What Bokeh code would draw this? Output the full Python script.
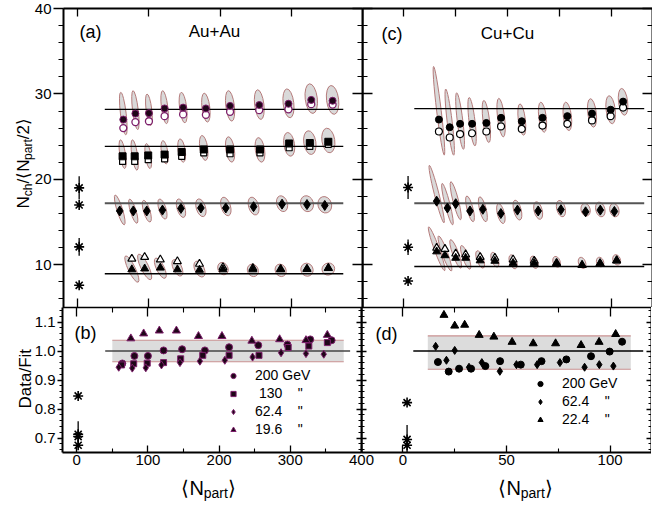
import math
from bokeh.plotting import figure
from bokeh.layouts import row, column
from bokeh.models import (Range1d, LinearAxis, SingleIntervalTicker, FixedTicker,
                          Label, Legend, LegendItem, PrintfTickFormatter)
from bokeh.embed import file_html
from bokeh.resources import INLINE

FONT = "Liberation Sans"

# ======================= DATA =======================
# ---- (a) Au+Au : Nch/(<Npart>/2) ----
au200_npart = [64, 81, 100, 122, 148, 180, 214, 255, 296, 328, 358]
au200_y = [27.0, 27.7, 27.75, 28.3, 28.4, 28.3, 28.6, 28.7, 28.85, 29.3, 29.2]
au200_y_open = [26.0, 26.7, 26.8, 27.4, 27.6, 27.55, 27.9, 28.1, 28.2, 28.8, 28.75]
au200_ell_lo = [25.2, 25.8, 26.3, 26.5, 26.6, 26.7, 26.8, 27.0, 27.2, 27.7, 27.6]
au200_ell_hi = [30.2, 30.4, 30.0, 30.4, 30.2, 30.1, 30.4, 30.5, 30.6, 31.2, 31.0]
au200_ell_w = [8, 8, 8, 9, 10, 11, 12, 13, 15, 17, 17]

au130_npart = [63, 80, 99, 122, 146, 177, 214, 256, 297, 326, 352]
au130_y = [22.7, 22.7, 22.8, 22.9, 23.2, 23.5, 23.5, 23.5, 24.2, 24.25, 24.4]
au130_y_open = [22.1, 22.1, 22.3, 22.4, 22.7, 23.1, 23.0, 23.1, 23.7, 23.85, 24.1]
au130_ell_lo = [21.25, 21.05, 21.25, 21.8, 22.0, 22.2, 22.0, 22.0, 22.7, 22.9, 23.1]
au130_ell_hi = [24.65, 24.65, 24.2, 24.55, 24.75, 25.15, 25.0, 24.9, 25.5, 25.7, 26.0]
au130_ell_w = [8, 8, 8, 9, 10, 11, 12, 13, 15, 17, 18]

au62_npart = [59, 78, 97, 119, 145, 173, 208, 247, 287, 322, 347]
au62_y = [16.3, 16.3, 16.3, 16.4, 16.6, 16.65, 16.65, 16.8, 17.1, 17.05, 16.95]
au62_ell_lo = [14.6, 14.8, 14.95, 15.3, 15.5, 15.6, 15.7, 15.8, 16.2, 16.2, 16.05]
au62_ell_hi = [18.25, 17.75, 17.6, 17.75, 17.75, 17.75, 17.95, 17.95, 18.1, 18.1, 18.0]
au62_ell_w = [8, 8, 9, 10, 11, 13, 13, 14, 15, 18, 19]

au19_npart = [76, 94, 116, 140, 171, 204, 246, 285, 322, 352]
au19_y = [9.45, 9.55, 9.65, 9.45, 9.4, 9.45, 9.45, 9.45, 9.5, 9.6]
au19_y_open = [10.7, 10.9, 10.6, 10.4, 10.1, 9.7, 9.6, 9.5, 9.5, 9.6]
au19_ell_lo = [7.8, 8.1, 8.3, 8.6, 8.5, 8.8, 8.6, 8.6, 8.65, 8.8]
au19_ell_hi = [11.2, 11.4, 10.9, 10.7, 10.5, 10.3, 10.1, 10.1, 10.2, 10.2]
au19_ell_w = [10, 11, 11, 12, 13, 14, 15, 15, 17, 18]

au_fit = [28.2, 23.85, 17.2, 8.95]
au_fit_range = (38, 373)

pp_au_y = [19.0, 17.0, 12.1, 7.6]
pp_au_err = [1.35, 0.0, 1.05, 0.0]

# ---- (c) Cu+Cu ----
cu200_npart = [16.9, 22.1, 27.1, 32.9, 39.8, 46.9, 56.9, 66.9, 78.9, 90.8, 99.8, 105.8]
cu200_y = [27.0, 26.1, 26.5, 26.5, 26.6, 27.2, 26.8, 27.2, 27.4, 27.7, 28.15, 29.1]
cu200_y_open = [25.6, 24.9, 25.3, 25.4, 25.6, 26.2, 25.9, 26.3, 26.5, 26.9, 27.4, 28.4]
cu200_ell_lo = [22.8, 22.8, 23.5, 23.9, 24.3, 24.95, 25.15, 25.5, 25.7, 26.1, 26.5, 27.5]
cu200_ell_hi = [33.25, 30.6, 30.15, 29.6, 29.25, 29.5, 28.85, 29.05, 29.05, 29.45, 29.8, 30.65]
cu200_ell_w = [2.2, 2.4, 2.7, 2.9, 3.2, 3.4, 3.4, 3.6, 3.9, 4.1, 4.4, 4.4]

cu62_npart = [15.8, 21.0, 25.0, 31.9, 38.1, 46.8, 54.8, 64.8, 75.8, 87.7, 94.8, 101.6]
cu62_y = [17.45, 16.65, 17.15, 16.3, 16.5, 16.0, 16.4, 16.3, 16.45, 16.2, 16.4, 16.25]
cu62_ell_lo = [14.8, 14.6, 15.2, 15.0, 15.0, 14.8, 15.2, 15.3, 15.6, 15.7, 15.6, 15.6]
cu62_ell_hi = [21.75, 19.6, 19.8, 18.1, 18.0, 17.2, 17.6, 17.4, 17.55, 17.2, 17.35, 17.2]
cu62_ell_w = [2.2, 2.4, 2.7, 2.9, 3.2, 3.4, 3.6, 3.9, 4.1, 4.4, 4.4, 4.4]

cu22_npart = [15.8, 19.8, 25.0, 29.8, 36.8, 43.9, 52.7, 62.9, 73.7, 86.0, 94.7, 102.7]
cu22_y = [11.55, 11.1, 10.8, 10.8, 10.5, 10.45, 10.2, 10.2, 10.15, 9.95, 10.15, 10.5]
cu22_y_open = [11.97, 11.85, 11.3, 11.2, 10.9, 10.8, 10.6, 10.45, 10.2, 9.95, 10.15, 10.5]
cu22_ell_lo = [9.15, 9.15, 9.5, 9.4, 9.55, 9.7, 9.5, 9.55, 9.7, 9.55, 9.75, 9.95]
cu22_ell_hi = [14.6, 13.5, 13.05, 12.35, 11.7, 11.5, 11.2, 11.05, 11.0, 10.9, 10.9, 11.2]
cu22_ell_w = [2.4, 2.7, 2.9, 2.9, 3.2, 3.2, 3.4, 3.4, 3.4, 3.4, 3.4, 3.6]

cu_fit = [28.27, 17.2, 9.8]
cu_fit_range = (5, 116)

pp_cu_y = [19.05, 12.05, 8.1]
pp_cu_err = [1.35, 0.9, 0.0]

pp_npart = 2

# ---- (b) Au+Au Data/Fit ----
au200_ratio = [0.957, 0.983, 0.983, 1.002, 1.006, 1.002, 1.013, 1.02, 1.022, 1.04, 1.037]
au130_ratio = [0.952, 0.956, 0.958, 0.960, 0.973, 0.985, 0.985, 0.985, 1.012, 1.017, 1.029]
au62_ratio = [0.944, 0.941, 0.942, 0.952, 0.96, 0.965, 0.968, 0.979, 0.994, 0.991, 0.989]
au19_ratio = [1.043, 1.06, 1.07, 1.07, 1.051, 1.051, 1.035, 1.04, 1.037, 1.055]
pp_au_ratio = [0.845, 0.713, 0.705, 0.675]
pp_au_ratio_err = [0.0, 0.045, 0.0, 0.0]
au_band = (0.963, 1.037)
au_band_range = (50, 375)
au_ratio_line_range = (40, 384)

# ---- (d) Cu+Cu Data/Fit ----
cu200_ratio = [0.962, 0.929, 0.939, 0.939, 0.948, 0.965, 0.953, 0.965, 0.971, 0.982, 0.998, 1.032]
cu62_ratio = [1.016, 0.968, 1.002, 0.944, 0.96, 0.93, 0.953, 0.953, 0.96, 0.944, 0.953, 0.948]
cu22_ratio = [1.17, 1.124, 1.087, 1.09, 1.055, 1.049, 1.031, 1.026, 1.026, 1.02, 1.031, 1.058]
pp_cu_ratio = [0.822, 0.695, 0.675]
pp_cu_ratio_err = [0.0, 0.05, 0.0]
cu_band = (0.937, 1.052)
cu_band_range = (12, 110)
cu_ratio_line_range = (5, 116)

# ======================= STYLE =======================
ELL_FILL = "#d9d9d9"
ELL_LINE = "#b57b7b"
PURPLE = "#7d1f6b"
DARKP = "#1e0618"
BAND_FILL = "#dcdcdc"
BAND_LINE = "#c99090"

CHAR_W = {'N': 0.722, 'c': 0.5, 'h': 0.556, '/': 0.278, 'p': 0.556, 'a': 0.556,
          'r': 0.333, 't': 0.278, '2': 0.556, '\u27e8': 0.39, '\u27e9': 0.39}


def text_w(s, fs):
    return sum(CHAR_W.get(ch, 0.55) for ch in s) * fs


def rich_label(p, pieces, x, y, angle=0.0):
    """Label made of pieces (text, font px, subscript drop px); centred on (x, y)."""
    total = sum(text_w(t, fs) for t, fs, _ in pieces)
    pos = -total / 2
    for txt, fs, drop in pieces:
        if angle == 0:
            lx, ly = x + pos, y - drop
        else:  # rotated 90 deg counter-clockwise: text runs upward, "down" is +x
            lx, ly = x + drop, y + pos
        p.add_layout(Label(x=lx, y=ly, x_units="screen", y_units="screen", text=txt,
                           angle=angle, text_font=FONT, text_font_size=f"{fs}px",
                           text_align="left", text_baseline="alphabetic", text_color="black"))
        pos += text_w(txt, fs)


def hide_grids(p):
    for g in p.grid:
        g.visible = False


def make_fig(xr, yr, fw, fh, bl, br, bt, bb):
    p = figure(frame_width=fw, frame_height=fh, x_range=Range1d(*xr), y_range=Range1d(*yr),
               output_backend="svg", toolbar_location=None, title=None,
               min_border_left=bl, min_border_right=br, min_border_top=bt, min_border_bottom=bb,
               x_axis_location=None, y_axis_location=None)
    p.background_fill_alpha = 0
    p.border_fill_alpha = 0
    p.outline_line_color = None
    hide_grids(p)
    return p


def label_fig(w, h):
    p = figure(width=w, height=h, x_range=Range1d(0, 1), y_range=Range1d(0, 1),
               output_backend="svg", toolbar_location=None, title=None, min_border=0,
               x_axis_location=None, y_axis_location=None)
    p.background_fill_alpha = 0
    p.border_fill_alpha = 0
    p.outline_line_color = None
    hide_grids(p)
    return p


def add_axis(p, side, ticker, labels=False, tin=0, tout=0, min_in=0, min_out=0, lw=1.5, fmt=None):
    ax = LinearAxis(ticker=ticker, major_tick_in=tin, major_tick_out=tout,
                    minor_tick_in=min_in, minor_tick_out=min_out,
                    axis_line_width=lw, axis_line_color="black",
                    major_tick_line_width=1.3, minor_tick_line_width=1.1,
                    major_tick_line_color="black", minor_tick_line_color="black")
    if labels:
        ax.major_label_text_font = FONT
        ax.major_label_text_font_size = "15px"
        ax.major_label_text_color = "black"
        ax.major_label_standoff = 2
        if fmt is not None:
            ax.formatter = fmt
    else:
        ax.major_label_text_color = None
        ax.major_label_standoff = 0
    p.add_layout(ax, side)
    return ax


def ellipses(p, x, lo, hi, w, angle):
    yc = [(a + b) / 2 for a, b in zip(lo, hi)]
    hh = [b - a for a, b in zip(lo, hi)]
    p.ellipse(x=x, y=yc, width=w, height=hh, angle=angle,
              fill_color=ELL_FILL, line_color=ELL_LINE, line_width=1)


def hlines(p, ys, xr, colors, widths):
    for y, c, w in zip(ys, colors, widths):
        p.line(x=list(xr), y=[y, y], line_color=c, line_width=w)


def stars(p, ys, errs):
    xs = [pp_npart] * len(ys)
    p.segment(x0=xs, x1=xs, y0=[y - e for y, e in zip(ys, errs)],
              y1=[y + e for y, e in zip(ys, errs)], line_color="black", line_width=1.3)
    p.scatter(x=xs, y=ys, marker="asterisk", size=10, line_color="black", line_width=1.6)


# ======================= FIGURES =======================
XL = (-20, 400)
XR = (-20, 120)
YT = (5, 40)
YB = (0.65, 1.15)
FW_L, FW_R, FH_T, FH_B = 299, 290, 299, 145
BL = 30          # left border of the left panels (tick labels)
OVER = 15        # overlap of the right panels onto the left panels' right border

fmt1 = PrintfTickFormatter(format="%.1f")


def yt_ticker():
    return SingleIntervalTicker(interval=10, num_minor_ticks=5)


def yb_ticker():
    return SingleIntervalTicker(interval=0.1, num_minor_ticks=5)


# ---- (a) ----
pa = make_fig(XL, YT, FW_L, FH_T, BL, OVER, 8, 0)
add_axis(pa, "left", yt_ticker(), labels=True, tout=10, min_out=5, lw=2)
add_axis(pa, "right", yt_ticker(), tin=10, min_in=5, lw=2)
add_axis(pa, "above", FixedTicker(ticks=[0, 100, 200, 300]), tin=8, lw=2)
add_axis(pa, "below", FixedTicker(ticks=[0, 100, 200, 300, 400]), tin=9, lw=1.5)

ellipses(pa, au200_npart, au200_ell_lo, au200_ell_hi, au200_ell_w, 0.12)
ellipses(pa, au130_npart, au130_ell_lo, au130_ell_hi, au130_ell_w, 0.15)
ellipses(pa, au62_npart, au62_ell_lo, au62_ell_hi, au62_ell_w, 0.3)
ellipses(pa, au19_npart, au19_ell_lo, au19_ell_hi, au19_ell_w, 0.45)
hlines(pa, au_fit, au_fit_range, ["black", "black", "#555555", "black"], [1.3, 1.3, 2.0, 1.3])
pa.scatter(au200_npart, au200_y_open, marker="circle", size=7, fill_color="white", line_color=PURPLE, line_width=1.3)
pa.scatter(au200_npart, au200_y, marker="circle", size=7, fill_color=DARKP, line_color=PURPLE, line_width=1)
pa.scatter(au130_npart, au130_y_open, marker="square", size=6, fill_color="white", line_color="black", line_width=1.2)
pa.scatter(au130_npart, au130_y, marker="square", size=7, fill_color="black", line_color="black")
pa.scatter(au62_npart, au62_y, marker="diamond", size=10, fill_color="black", line_color="black")
pa.scatter(au19_npart, au19_y_open, marker="triangle", size=8, fill_color="white", line_color="black", line_width=1.2)
pa.scatter(au19_npart, au19_y, marker="triangle", size=8, fill_color="black", line_color="black")
stars(pa, pp_au_y, pp_au_err)

pa.add_layout(Label(x=16, y=266, x_units="screen", y_units="screen", text="(a)",
                    text_font=FONT, text_font_size="18px", text_color="black"))
pa.add_layout(Label(x=151, y=267, x_units="screen", y_units="screen", text="Au+Au",
                    text_font=FONT, text_font_size="17px", text_align="center", text_color="black"))

# ---- (c) ----
pc = make_fig(XR, YT, FW_R, FH_T, 0, 0, 8, 0)
pc.margin = (0, 0, 0, -OVER)
add_axis(pc, "left", yt_ticker(), tin=10, min_in=5, lw=2)
add_axis(pc, "right", yt_ticker(), tin=10, min_in=5, lw=2)
add_axis(pc, "above", FixedTicker(ticks=[0, 25, 50, 75, 100]), tin=8, lw=2)
add_axis(pc, "below", FixedTicker(ticks=[0, 50, 100]), tin=9, lw=1.5)

ellipses(pc, cu200_npart, cu200_ell_lo, cu200_ell_hi, cu200_ell_w, 0.12)
ellipses(pc, cu62_npart, cu62_ell_lo, cu62_ell_hi, cu62_ell_w, 0.25)
ellipses(pc, cu22_npart, cu22_ell_lo, cu22_ell_hi, cu22_ell_w, 0.35)
hlines(pc, cu_fit, cu_fit_range, ["black", "#555555", "black"], [1.3, 2.0, 1.3])
pc.scatter(cu200_npart, cu200_y_open, marker="circle", size=7, fill_color="white", line_color="black", line_width=1.2)
pc.scatter(cu200_npart, cu200_y, marker="circle", size=7, fill_color="black", line_color="black")
pc.scatter(cu62_npart, cu62_y, marker="diamond", size=10, fill_color="black", line_color="black")
pc.scatter(cu22_npart, cu22_y_open, marker="triangle", size=8, fill_color="white", line_color="black", line_width=1.2)
pc.scatter(cu22_npart, cu22_y, marker="triangle", size=8, fill_color="black", line_color="black")
stars(pc, pp_cu_y, pp_cu_err)

pc.add_layout(Label(x=19, y=264, x_units="screen", y_units="screen", text="(c)",
                    text_font=FONT, text_font_size="18px", text_color="black"))
pc.add_layout(Label(x=145, y=265, x_units="screen", y_units="screen", text="Cu+Cu",
                    text_font=FONT, text_font_size="17px", text_align="center", text_color="black"))

# ---- (b) ----
pb = make_fig(XL, YB, FW_L, FH_B, BL, OVER, 0, 20)
add_axis(pb, "left", yb_ticker(), labels=True, tout=5, min_out=3, lw=2, fmt=fmt1)
add_axis(pb, "right", yb_ticker(), tin=5, min_in=3, lw=2)
add_axis(pb, "above", FixedTicker(ticks=[0, 100, 200, 300, 400], minor_ticks=[50, 150, 250, 350]),
         tin=9, min_in=5, lw=1.5)
add_axis(pb, "below", FixedTicker(ticks=[0, 100, 200, 300, 400], minor_ticks=[50, 150, 250, 350]),
         labels=True, tin=7, min_in=4, lw=2)

pb.quad(left=au_band_range[0], right=au_band_range[1], bottom=au_band[0], top=au_band[1],
        fill_color=BAND_FILL, line_color=None)
hlines(pb, list(au_band), au_band_range, [BAND_LINE, BAND_LINE], [1.2, 1.2])
hlines(pb, [1.0], au_ratio_line_range, ["#444444"], [1.5])
r200 = pb.scatter(au200_npart, au200_ratio, marker="circle", size=7, fill_color=DARKP, line_color=PURPLE, line_width=1)
r130 = pb.scatter(au130_npart, au130_ratio, marker="square", size=6, fill_color=DARKP, line_color=PURPLE, line_width=1)
r62 = pb.scatter(au62_npart, au62_ratio, marker="diamond", size=8, fill_color=DARKP, line_color=PURPLE, line_width=1)
r19 = pb.scatter(au19_npart, au19_ratio, marker="triangle", size=8, fill_color=DARKP, line_color=PURPLE, line_width=1)
stars(pb, pp_au_ratio, pp_au_ratio_err)

NB = "\u00a0"
leg_b = Legend(items=[LegendItem(label="200 GeV", renderers=[r200]),
                      LegendItem(label=NB + "130" + NB * 4 + "\"", renderers=[r130]),
                      LegendItem(label="62.4" + NB * 4 + "\"", renderers=[r62]),
                      LegendItem(label="19.6" + NB * 4 + "\"", renderers=[r19])],
               location=(164, 15), orientation="vertical", glyph_width=14, glyph_height=13,
               label_height=13, label_standoff=15, spacing=2, padding=0, margin=0,
               border_line_alpha=0, background_fill_alpha=0,
               label_text_font=FONT, label_text_font_size="14px", label_text_color="black")
pb.add_layout(leg_b)
pb.add_layout(Label(x=12, y=110, x_units="screen", y_units="screen", text="(b)",
                    text_font=FONT, text_font_size="18px", text_color="black"))

# ---- (d) ----
pd_ = make_fig(XR, YB, FW_R, FH_B, 0, 0, 0, 20)
pd_.margin = (0, 0, 0, -OVER)
add_axis(pd_, "left", yb_ticker(), tin=5, min_in=3, lw=2)
add_axis(pd_, "right", yb_ticker(), tin=5, min_in=3, lw=2)
add_axis(pd_, "above", FixedTicker(ticks=[0, 50, 100], minor_ticks=[25, 75]), tin=9, min_in=5, lw=1.5)
add_axis(pd_, "below", FixedTicker(ticks=[0, 50, 100], minor_ticks=[25, 75]), labels=True, tin=7, min_in=4, lw=2)

pd_.quad(left=cu_band_range[0], right=cu_band_range[1], bottom=cu_band[0], top=cu_band[1],
         fill_color=BAND_FILL, line_color=None)
hlines(pd_, list(cu_band), cu_band_range, [BAND_LINE, BAND_LINE], [1.2, 1.2])
hlines(pd_, [1.0], cu_ratio_line_range, ["black"], [1.3])
c200 = pd_.scatter(cu200_npart, cu200_ratio, marker="circle", size=7, fill_color="black", line_color="black")
c62 = pd_.scatter(cu62_npart, cu62_ratio, marker="diamond", size=8, fill_color="black", line_color="black")
c22 = pd_.scatter(cu22_npart, cu22_ratio, marker="triangle", size=8, fill_color="black", line_color="black")
stars(pd_, pp_cu_ratio, pp_cu_ratio_err)

leg_d = Legend(items=[LegendItem(label="200 GeV", renderers=[c200]),
                      LegendItem(label="62.4" + NB * 4 + "\"", renderers=[c62]),
                      LegendItem(label="22.4" + NB * 4 + "\"", renderers=[c22])],
               location=(172, 25), orientation="vertical", glyph_width=14, glyph_height=13,
               label_height=13, label_standoff=15, spacing=2, padding=0, margin=0,
               border_line_alpha=0, background_fill_alpha=0,
               label_text_font=FONT, label_text_font_size="14px", label_text_color="black")
pd_.add_layout(leg_d)
pd_.add_layout(Label(x=14, y=109, x_units="screen", y_units="screen", text="(d)",
                     text_font=FONT, text_font_size="18px", text_color="black"))

# ---- axis-title strips (rich text with sub-scripts) ----
YLAB_VIS = 31          # visible width of the y-title strip
YLAB_W = 110           # canvas width (the panels overlap the extra part, transparently)
PANEL_H = 8 + FH_T + FH_B + 20
ylab = label_fig(YLAB_W, PANEL_H)
ylab.margin = (0, -(YLAB_W - YLAB_VIS), 0, 0)
rich_label(ylab, [("N", 17, 0), ("ch", 12, 4), ("/\u27e8N", 17, 0), ("part", 12, 4),
                  ("/2\u27e9", 17, 0)], 23, PANEL_H - 163, angle=math.pi / 2)
ylab.add_layout(Label(x=25, y=PANEL_H - 378 - 30, x_units="screen", y_units="screen", text="Data/Fit",
                      angle=math.pi / 2, text_font=FONT, text_font_size="17px",
                      text_align="left", text_baseline="alphabetic", text_color="black"))

XLAB_H = 34
xlab = label_fig(648, XLAB_H)
rich_label(xlab, [("\u27e8N", 20, 0), ("part", 14, 5), ("\u27e9", 20, 0)], 208, XLAB_H - 15)
rich_label(xlab, [("\u27e8N", 20, 0), ("part", 14, 5), ("\u27e9", 20, 0)], 525, XLAB_H - 15)

layout = column(row(ylab, column(row(pa, pc), row(pb, pd_))), xlab)

with open("out.html", "w") as f:
    f.write(file_html(layout, INLINE))
